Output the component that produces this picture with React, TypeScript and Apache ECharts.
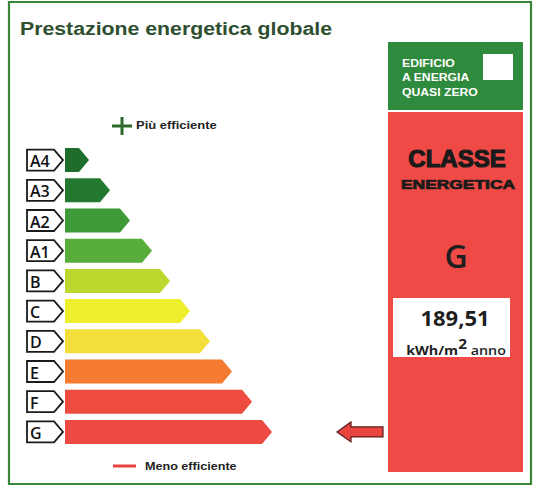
import React, { useEffect, useRef } from "react";
import * as echarts from "echarts";

const classes = ["A4", "A3", "A2", "A1", "B", "C", "D", "E", "F", "G"];
const barLengths = [24, 45, 65, 87, 105, 125, 145, 167, 187, 207];
const barColors = [
  "#1f6d2b", "#23782f", "#3d9a37", "#58ad3b", "#bdd72f",
  "#eef02e", "#f3df3c", "#f47b30", "#ee4c40", "#ee4a42",
];
const currentClass = "G";
const epValue = "189,51";
const titleText = "Prestazione energetica globale";
const nzebLines = ["EDIFICIO", "A ENERGIA", "QUASI ZERO"];

const ARROW_TIP = 272; // in x-axis units
const ARROW_LEN = 46;

export default function App() {
  const ref = useRef<HTMLDivElement>(null);
  useEffect(() => {
    if (!ref.current) return;
    const chart = echarts.init(ref.current, null, { renderer: "svg" });
    const data = classes.map((c, i) => [barLengths[i], i]);

    const renderItem = (params: any, api: any) => {
      const len = api.value(0);
      const idx = api.value(1);
      const start = api.coord([0, idx]);
      const end = api.coord([len, idx]);
      const y = start[1];
      const h = 24;
      const tip = 10;
      const x0 = start[0];
      const x1 = end[0];
      const children: any[] = [];
      const bx0 = x0 - 38;
      const bx1 = x0 - 2;
      const bh = 21;
      children.push({
        type: "polygon",
        shape: {
          points: [
            [bx0, y - bh / 2],
            [bx1 - 9, y - bh / 2],
            [bx1, y],
            [bx1 - 9, y + bh / 2],
            [bx0, y + bh / 2],
          ],
        },
        style: { fill: "#ffffff", stroke: "#1a1a1a", lineWidth: 1.8 },
      });
      children.push({
        type: "text",
        x: bx0 + 3,
        y: y + 1,
        style: {
          text: classes[idx],
          fontFamily: "Open Sans",
          fontWeight: 600,
          fontSize: 16,
          fill: "#111",
          align: "left",
          verticalAlign: "middle",
        },
      });
      children.push({
        type: "polygon",
        shape: {
          points: [
            [x0, y - h / 2],
            [x1 - tip, y - h / 2],
            [x1, y],
            [x1 - tip, y + h / 2],
            [x0, y + h / 2],
          ],
        },
        style: { fill: barColors[idx] },
      });
      if (classes[idx] === currentClass) {
        const tipPt = api.coord([ARROW_TIP, idx]);
        const tx = tipPt[0];
        const headL = 14;
        children.push({
          type: "polygon",
          shape: {
            points: [
              [tx, y],
              [tx + headL, y - 10],
              [tx + headL, y - 5],
              [tx + ARROW_LEN, y - 5],
              [tx + ARROW_LEN, y + 5],
              [tx + headL, y + 5],
              [tx + headL, y + 10],
            ],
          },
          style: { fill: "#e8453f", stroke: "#5a1c1c", lineWidth: 1.2 },
        });
      }
      return { type: "group", children };
    };

    const font = "Liberation Sans";
    const option: any = {
      animation: false,
      grid: { left: 65, top: 145, width: 300, height: 302 },
      xAxis: { type: "value", min: 0, max: 300, show: false },
      yAxis: { type: "category", data: classes, inverse: true, show: false },
      series: [
        {
          type: "custom",
          renderItem,
          data,
          clip: false,
        },
      ],
      graphic: [
        {
          type: "rect",
          shape: { x: 9, y: 2, width: 522, height: 482 },
          style: { fill: "none", stroke: "#3a873a", lineWidth: 2.2 },
          silent: true,
        },
        {
          type: "text",
          x: 20,
          y: 28,
          scaleX: 1.12,
          style: {
            text: titleText,
            fontFamily: font,
            fontWeight: "bold",
            fontSize: 19,
            fill: "#2e4f30",
            align: "left",
            verticalAlign: "middle",
          },
        },
        { type: "rect", shape: { x: 112, y: 124.5, width: 20, height: 3 }, style: { fill: "#2b6a2b" } },
        { type: "rect", shape: { x: 120.5, y: 117, width: 3, height: 18 }, style: { fill: "#2b6a2b" } },
        {
          type: "text",
          x: 136,
          y: 126,
          scaleX: 1.3,
          style: {
            text: "Più efficiente",
            fontFamily: font,
            fontWeight: "bold",
            fontSize: 10,
            fill: "#222",
            align: "left",
            verticalAlign: "middle",
          },
        },
        { type: "rect", shape: { x: 113, y: 464.5, width: 23, height: 3 }, style: { fill: "#e8433f" } },
        {
          type: "text",
          x: 145,
          y: 466,
          scaleX: 1.26,
          style: {
            text: "Meno efficiente",
            fontFamily: font,
            fontWeight: "bold",
            fontSize: 10,
            fill: "#222",
            align: "left",
            verticalAlign: "middle",
          },
        },
        { type: "rect", shape: { x: 388, y: 42, width: 135, height: 68 }, style: { fill: "#2e8a3c" } },
        { type: "rect", shape: { x: 483, y: 54, width: 30, height: 26 }, style: { fill: "#ffffff" } },
        ...nzebLines.map((t, i) => ({
          type: "text",
          x: 402,
          y: 63 + i * 14.5,
          scaleX: 1.22,
          style: {
            text: t,
            fontFamily: font,
            fontWeight: "bold",
            fontSize: 10,
            fill: "#ffffff",
            align: "left",
            verticalAlign: "middle",
          },
        })),
        { type: "rect", shape: { x: 388, y: 112, width: 135, height: 360 }, style: { fill: "#f04a46" } },
        {
          type: "text",
          x: 457,
          y: 158,
          style: {
            text: "CLASSE",
            fontFamily: font,
            fontWeight: "bold",
            fontSize: 24,
            fill: "#1a1a1a",
            stroke: "#1a1a1a",
            lineWidth: 1.2,
            align: "center",
            verticalAlign: "middle",
          },
        },
        {
          type: "text",
          x: 458,
          y: 185,
          scaleX: 1.45,
          style: {
            text: "ENERGETICA",
            fontFamily: font,
            fontWeight: "bold",
            fontSize: 12,
            fill: "#1a1a1a",
            stroke: "#1a1a1a",
            lineWidth: 0.7,
            align: "center",
            verticalAlign: "middle",
          },
        },
        {
          type: "text",
          x: 456,
          y: 255,
          style: {
            text: currentClass,
            fontFamily: "Open Sans",
            fontWeight: 600,
            fontSize: 32,
            fill: "#1f1f1f",
            align: "center",
            verticalAlign: "middle",
          },
        },
        { type: "rect", shape: { x: 393, y: 298, width: 117, height: 59 }, style: { fill: "#ffffff" } },
        {
          type: "text",
          x: 455,
          y: 317,
          style: {
            text: epValue,
            fontFamily: "Open Sans",
            fontWeight: "bold",
            fontSize: 22,
            fill: "#1f1f1f",
            align: "center",
            verticalAlign: "middle",
          },
        },
        {
          type: "text",
          x: 456,
          y: 346,
          scaleX: 1.1,
          style: {
            text: "{a|kWh/m}{s|2}{b| anno}",
            align: "center",
            verticalAlign: "middle",
            rich: {
              a: { fontFamily: "Open Sans", fontWeight: "bold", fontSize: 13, fill: "#1f1f1f", verticalAlign: "bottom", lineHeight: 20 },
              b: { fontFamily: "Open Sans", fontWeight: 600, fontSize: 13, fill: "#1f1f1f", verticalAlign: "bottom", lineHeight: 20 },
              s: { fontFamily: "Open Sans", fontWeight: "bold", fontSize: 14, fill: "#1f1f1f", verticalAlign: "top", lineHeight: 20 },
            },
          },
        },
      ],
    };
    chart.setOption(option);
    return () => chart.dispose();
  }, []);
  return <div ref={ref} style={{ width: 537, height: 489, position: "absolute", left: 0, top: 0 }} />;
}
